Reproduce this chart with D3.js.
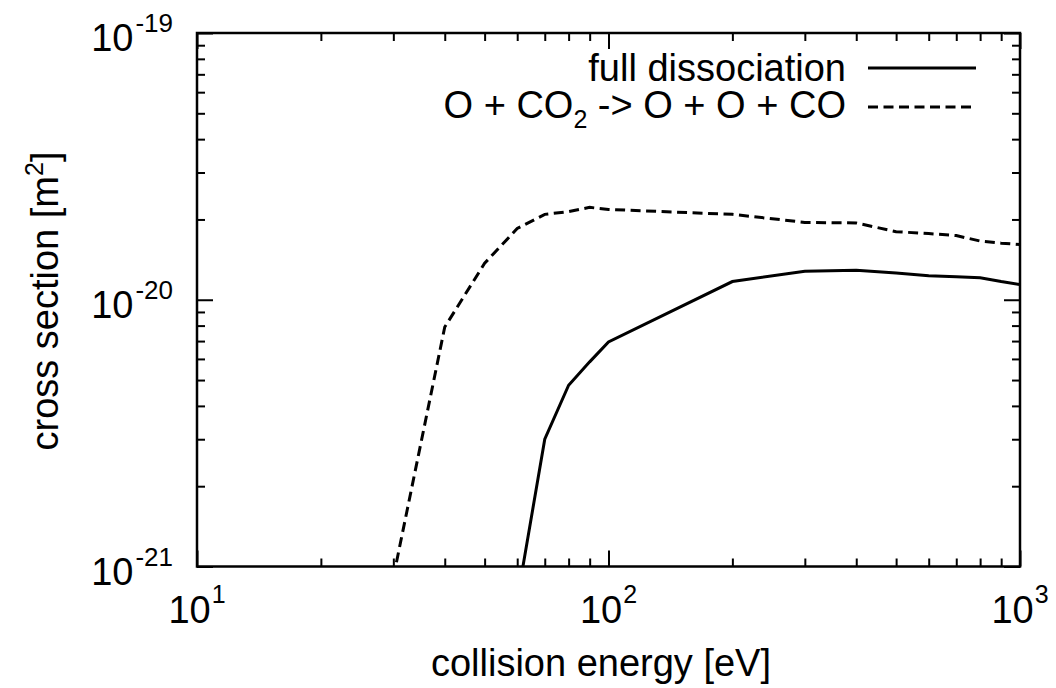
<!DOCTYPE html>
<html lang="en">

<head>
  <meta charset="UTF-8">
  <title>Cross section vs collision energy</title>
  <style>
    body { margin: 0; background: #fff; }
    svg text { font-family: "Liberation Sans", Arial, Helvetica, sans-serif; fill: #000; }
  </style>
</head>

<body>
  <svg id="chart" width="1056" height="688"></svg>

  <script src="https://d3js.org/d3.v7.min.js"></script>
  <script>
    // values (energy in eV, cross section in m^2)
    const dissocEnergy = [60, 70, 80, 90, 100, 200, 300, 400, 500, 600, 700, 800, 900, 1000];
    const dissocSigma = [7.5e-22, 3.0e-21, 4.78e-21, 5.85e-21, 6.95e-21, 1.17e-20, 1.28e-20, 1.29e-20,
      1.26e-20, 1.23e-20, 1.22e-20, 1.21e-20, 1.17e-20, 1.14e-20];

    const reactEnergy = [30, 40, 50, 60, 70, 80, 90, 100, 200, 300, 400, 500, 600, 700, 800, 900, 1000];
    const reactSigma = [9.1e-22, 7.9e-21, 1.37e-20, 1.85e-20, 2.09e-20, 2.14e-20, 2.22e-20, 2.18e-20,
      2.09e-20, 1.95e-20, 1.94e-20, 1.80e-20, 1.77e-20, 1.74e-20, 1.66e-20, 1.63e-20, 1.61e-20];

    // tick labels: base 10 with these exponents
    const xTickValues = [10, 100, 1000];
    const xTickExp = ["1", "2", "3"];
    const yTickValues = [1e-21, 1e-20, 1e-19];
    const yTickExp = ["-21", "-20", "-19"];

    const svg = d3.select("#chart");
    // frame edges (note: "top" is taken by window.top)
    const plotL = 197, plotR = 1020, plotT = 33, plotB = 566.5;

    const x = d3.scaleLog().domain([10, 1000]).range([plotL, plotR]);
    const y = d3.scaleLog().domain([1e-21, 1e-19]).range([plotB, plotT]);

    // minor ticks 2..9 in each decade
    const minorX = [10, 100].flatMap(d => d3.range(2, 10).map(k => k * d));
    const minorY = [1e-21, 1e-20].flatMap(d => d3.range(2, 10).map(k => k * d));

    function addAxis(axis, tr) {
      const g = svg.append("g").attr("transform", tr).call(axis);
      g.select(".domain").remove();
      g.selectAll(".tick line").attr("stroke", "#000").attr("stroke-width", 2);
      g.selectAll(".tick text").remove();
    }

    // ticks point inwards, on all four sides
    addAxis(d3.axisBottom(x).tickValues(minorX).tickSize(-8), `translate(0,${plotB})`);
    addAxis(d3.axisBottom(x).tickValues(xTickValues).tickSize(-16), `translate(0,${plotB})`);
    addAxis(d3.axisTop(x).tickValues(minorX).tickSize(-8), `translate(0,${plotT})`);
    addAxis(d3.axisTop(x).tickValues(xTickValues).tickSize(-16), `translate(0,${plotT})`);
    addAxis(d3.axisLeft(y).tickValues(minorY).tickSize(-8), `translate(${plotL},0)`);
    addAxis(d3.axisLeft(y).tickValues(yTickValues).tickSize(-16), `translate(${plotL},0)`);
    addAxis(d3.axisRight(y).tickValues(minorY).tickSize(-8), `translate(${plotR},0)`);
    addAxis(d3.axisRight(y).tickValues(yTickValues).tickSize(-16), `translate(${plotR},0)`);

    // x tick labels 10^n
    xTickValues.forEach((v, i) => {
      const t = svg.append("text")
        .attr("x", x(v)).attr("y", 623)
        .attr("text-anchor", "middle")
        .attr("font-size", 38);
      t.append("tspan").text("10");
      t.append("tspan").attr("dy", -20).attr("dx", 1).attr("font-size", 25).text(xTickExp[i]);
    });

    // y tick labels 10^n
    yTickValues.forEach((v, i) => {
      const t = svg.append("text")
        .attr("x", 173).attr("y", y(v) + 18)
        .attr("text-anchor", "end")
        .attr("font-size", 38);
      t.append("tspan").text("10");
      t.append("tspan").attr("dy", -19).attr("dx", 2).attr("font-size", 26).text(yTickExp[i]);
    });

    // clip the curves to the frame
    svg.append("clipPath").attr("id", "plot-clip")
      .append("rect")
      .attr("x", plotL).attr("y", plotT)
      .attr("width", plotR - plotL).attr("height", plotB - plotT);

    const line = d3.line()
      .x(d => x(d[0]))
      .y(d => y(d[1]));

    const reactData = reactEnergy.map((e, i) => [e, reactSigma[i]]);
    const dissocData = dissocEnergy.map((e, i) => [e, dissocSigma[i]]);

    const plot = svg.append("g").attr("clip-path", "url(#plot-clip)");
    plot.append("path")
      .datum(reactData)
      .attr("d", line)
      .attr("fill", "none")
      .attr("stroke", "#000")
      .attr("stroke-width", 3)
      .attr("stroke-dasharray", "10,5.5");
    plot.append("path")
      .datum(dissocData)
      .attr("d", line)
      .attr("fill", "none")
      .attr("stroke", "#000")
      .attr("stroke-width", 3);

    // frame
    svg.append("rect")
      .attr("x", plotL).attr("y", plotT)
      .attr("width", plotR - plotL).attr("height", plotB - plotT)
      .attr("fill", "none")
      .attr("stroke", "#000")
      .attr("stroke-width", 2.5);

    // legend
    svg.append("text")
      .attr("x", 846).attr("y", 81)
      .attr("text-anchor", "end")
      .attr("font-size", 38)
      .text("full dissociation");
    svg.append("line")
      .attr("x1", 868).attr("x2", 976).attr("y1", 68).attr("y2", 68)
      .attr("stroke", "#000").attr("stroke-width", 3);

    const leg2 = svg.append("text")
      .attr("x", 846).attr("y", 118)
      .attr("text-anchor", "end")
      .attr("font-size", 38);
    leg2.append("tspan").text("O + CO");
    leg2.append("tspan").attr("dy", 10).attr("font-size", 25).text("2");
    leg2.append("tspan").attr("dy", -10).text(" -> O + O + CO");
    svg.append("line")
      .attr("x1", 868).attr("x2", 976).attr("y1", 107).attr("y2", 107)
      .attr("stroke", "#000").attr("stroke-width", 3)
      .attr("stroke-dasharray", "10,5.5");

    // axis titles
    svg.append("text")
      .attr("x", 601).attr("y", 676)
      .attr("text-anchor", "middle")
      .attr("font-size", 38)
      .text("collision energy [eV]");

    const yTitle = svg.append("text")
      .attr("transform", "translate(58,301) rotate(-90)")
      .attr("text-anchor", "middle")
      .attr("font-size", 38);
    yTitle.append("tspan").text("cross section [m");
    yTitle.append("tspan").attr("dy", -15).attr("font-size", 25).text("2");
    yTitle.append("tspan").attr("dy", 15).text("]");
  </script>
</body>

</html>
